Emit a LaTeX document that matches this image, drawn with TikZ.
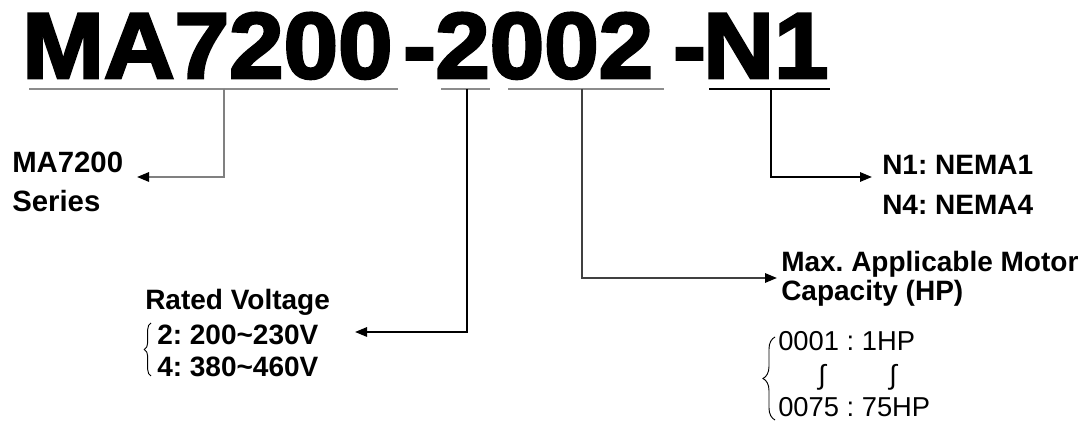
\documentclass[tikz,border=0pt]{standalone}
\usepackage{fontspec}
\setmainfont{Liberation Sans}
\newfontfamily\titlefont[FakeStretch=1.05,BoldFeatures={FakeBold=3}]{Liberation Sans}
\usetikzlibrary{arrows.meta,decorations.pathreplacing}
\frenchspacing
\begin{document}
\begin{tikzpicture}[x=0.75pt,y=-0.75pt,
  every node/.style={inner sep=0pt,anchor=base west},
  big/.style={font=\titlefont\bfseries\fontsize{70}{70}\selectfont},
  lbl/.style={font=\bfseries\fontsize{21}{24}\selectfont},
  val/.style={font=\fontsize{20.5}{24}\selectfont},
  ul/.style={line width=2.2pt,gray!90},
  conn/.style={line width=1.5pt,-{Triangle[length=9pt,width=7pt,black]}},
  brc/.style={decorate,decoration={brace,amplitude=5pt},line width=0.7pt}]
  \useasboundingbox (0,0) rectangle (1083,423);

  %% model code
  \node[big] (code1) at (22,78) {MA7200};
  \node[big] (dash1) at (403,78) {-};
  \node[big] (code2) at (435,78) {2002};
  \node[big] (dash2) at (673,78) {-};
  \node[big] (code3) at (703,78) {N1};

  %% underlines
  \draw[ul] (29,89) -- (398,89);
  \draw[ul] (441,89) -- (490,89);
  \draw[ul] (508,89) -- (664,89);
  \draw[line width=1.4pt] (709,89) -- (830,89);

  \coordinate (c1) at (224,89);
  \coordinate (c2) at (467,89);
  \coordinate (c3) at (582,89);
  \coordinate (c4) at (771,89);

  %% series
  \node[lbl,font=\bfseries\fontsize{22}{24}\selectfont] (ser1) at (12,173) {MA7200};
  \node[lbl,font=\bfseries\fontsize{22}{24}\selectfont] (ser2) at (12,212) {Series};
  \coordinate (t1) at (137,177);
  \draw[conn,gray] (c1) |- (t1);

  %% voltage
  \node[lbl] (volt) at (145,310) {Rated Voltage};
  \node[lbl] (volt2) at (157,345) {2: 200\textasciitilde230V};
  \node[lbl] (volt4) at (157,377) {4: 380\textasciitilde460V};
  \draw[brc] (151,376) -- (151,323);
  \coordinate (t2) at (355,332);
  \draw[conn] (c2) |- (t2);

  %% capacity
  \node[lbl] (cap1) at (781,272) {Max. Applicable Motor};
  \node[lbl] (cap2) at (781,301) {Capacity (HP)};
  \node[val] (hp1) at (778,351) {0001 : 1HP};
  \node[val,anchor=center] (s1) at (822,377) {∫};
  \node[val,anchor=center] (s2) at (893,377) {∫};
  \node[val] (hp75) at (778,417) {0075 : 75HP};
  \draw[brc,decoration={amplitude=9pt}] (775,420) -- (775,337);
  \coordinate (t3) at (777,278);
  \draw[conn,black!75] (c3) |- (t3);

  %% enclosure
  \node[lbl] (nema1) at (882,175) {N1: NEMA1};
  \node[lbl] (nema4) at (882,215) {N4: NEMA4};
  \coordinate (t4) at (872,177);
  \draw[conn] (c4) |- (t4);

\end{tikzpicture}
\end{document}
